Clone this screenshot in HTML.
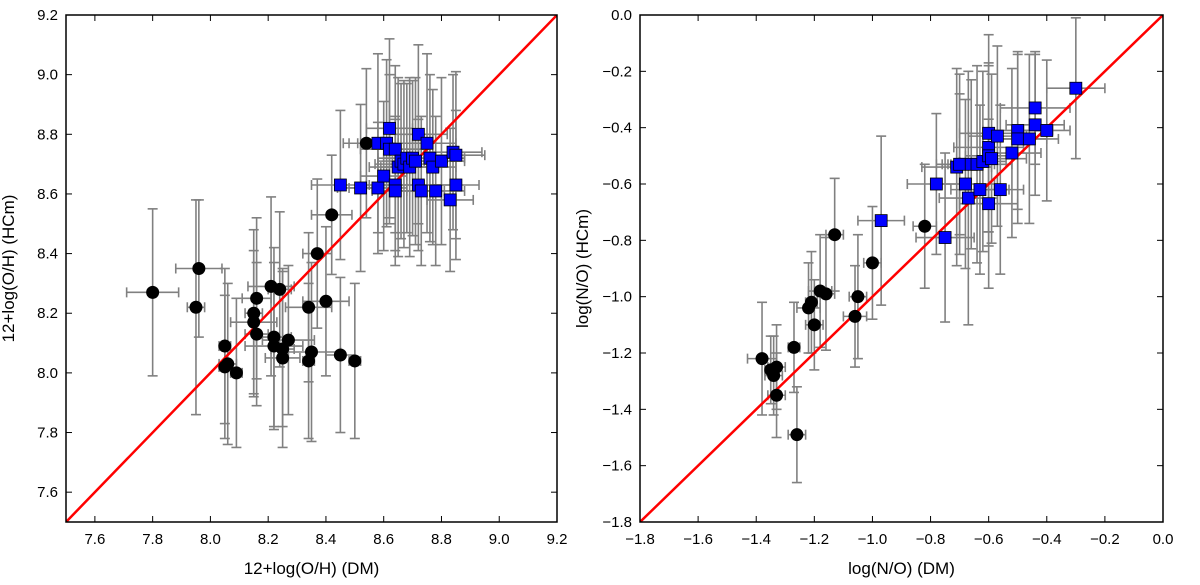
<!DOCTYPE html>
<html><head><meta charset="utf-8"><style>
body{margin:0;background:#fff;}
svg{display:block;font-family:"Liberation Sans",sans-serif;}
</style></head><body>
<svg id="chart" width="1200" height="585"></svg>
<script>
// Left panel data: 12+log(O/H)
const leftBlackX=[7.80,7.95,7.96,8.05,8.05,8.06,8.09,8.15,8.15,8.16,8.16,8.21,8.22,8.22,8.24,8.25,8.25,8.27,8.34,8.34,8.35,8.37,8.40,8.42,8.45,8.50,8.54];
const leftBlackY=[8.27,8.22,8.35,8.09,8.02,8.03,8.00,8.20,8.17,8.25,8.13,8.29,8.09,8.12,8.28,8.05,8.08,8.11,8.22,8.04,8.07,8.40,8.24,8.53,8.06,8.04,8.77];
const leftBlackXErr=[0.09,0.03,0.08,0.02,0.02,0.03,0.02,0.03,0.08,0.05,0.04,0.08,0.10,0.06,0.04,0.06,0.04,0.09,0.08,0.02,0.10,0.05,0.08,0.07,0.05,0.02,0.06];
const leftBlackYErr=[0.28,0.36,0.23,0.26,0.24,0.27,0.25,0.28,0.24,0.27,0.24,0.30,0.28,0.30,0.26,0.30,0.26,0.25,0.25,0.26,0.30,0.25,0.25,0.20,0.26,0.26,0.25];
const leftBlueX=[8.45,8.52,8.58,8.58,8.60,8.61,8.62,8.62,8.64,8.64,8.64,8.65,8.66,8.67,8.68,8.69,8.70,8.71,8.72,8.72,8.73,8.75,8.76,8.77,8.78,8.80,8.83,8.84,8.85,8.85];
const leftBlueY=[8.63,8.62,8.62,8.77,8.66,8.77,8.82,8.75,8.75,8.63,8.61,8.69,8.71,8.70,8.72,8.69,8.72,8.71,8.80,8.63,8.61,8.77,8.72,8.69,8.61,8.71,8.58,8.74,8.73,8.63];
const leftBlueXErr=[0.10,0.08,0.10,0.12,0.08,0.10,0.08,0.10,0.12,0.10,0.08,0.10,0.08,0.10,0.08,0.10,0.12,0.08,0.10,0.12,0.08,0.10,0.12,0.08,0.10,0.08,0.08,0.10,0.10,0.08];
const leftBlueYErr=[0.25,0.28,0.22,0.30,0.25,0.28,0.30,0.25,0.28,0.22,0.25,0.30,0.26,0.28,0.25,0.30,0.26,0.28,0.30,0.22,0.25,0.30,0.28,0.26,0.25,0.28,0.24,0.26,0.28,0.25];
const leftTicks=[7.6,7.8,8.0,8.2,8.4,8.6,8.8,9.0,9.2];
// Right panel data: log(N/O)
const rightBlackX=[-1.38,-1.35,-1.34,-1.33,-1.33,-1.27,-1.26,-1.22,-1.21,-1.20,-1.18,-1.16,-1.13,-1.06,-1.05,-1.00,-0.82,-0.70];
const rightBlackY=[-1.22,-1.26,-1.28,-1.25,-1.35,-1.18,-1.49,-1.04,-1.02,-1.10,-0.98,-0.99,-0.78,-1.07,-1.00,-0.88,-0.75,-0.53];
const rightBlackXErr=[0.05,0.02,0.03,0.03,0.03,0.02,0.03,0.04,0.02,0.03,0.04,0.03,0.03,0.04,0.03,0.03,0.04,0.03];
const rightBlackYErr=[0.20,0.12,0.14,0.15,0.15,0.16,0.17,0.16,0.18,0.16,0.20,0.20,0.20,0.18,0.22,0.20,0.22,0.25];
const rightBlueX=[-0.97,-0.78,-0.75,-0.71,-0.70,-0.68,-0.67,-0.66,-0.64,-0.63,-0.62,-0.60,-0.60,-0.60,-0.60,-0.59,-0.57,-0.56,-0.52,-0.50,-0.50,-0.46,-0.44,-0.44,-0.40,-0.30];
const rightBlueY=[-0.73,-0.60,-0.79,-0.54,-0.53,-0.60,-0.65,-0.53,-0.53,-0.62,-0.52,-0.42,-0.47,-0.50,-0.67,-0.51,-0.43,-0.62,-0.49,-0.41,-0.44,-0.44,-0.33,-0.39,-0.41,-0.26];
const rightBlueXErr=[0.08,0.10,0.10,0.12,0.08,0.10,0.10,0.08,0.12,0.10,0.08,0.10,0.12,0.08,0.10,0.12,0.10,0.08,0.10,0.12,0.10,0.10,0.12,0.10,0.08,0.10];
const rightBlueYErr=[0.30,0.25,0.30,0.35,0.32,0.30,0.45,0.30,0.35,0.30,0.32,0.35,0.30,0.32,0.30,0.30,0.32,0.30,0.30,0.28,0.30,0.30,0.20,0.25,0.25,0.25];
const rightTicks=[-1.8,-1.6,-1.4,-1.2,-1.0,-0.8,-0.6,-0.4,-0.2,0.0];

const svg=document.getElementById('chart');
const NS='http://www.w3.org/2000/svg';
function mk(tag,attrs,parent){const e=document.createElementNS(NS,tag);for(const k in attrs)e.setAttribute(k,attrs[k]);(parent||svg).appendChild(e);return e;}

function panel(name,x0,x1,y0,y1,lo,hi,ticks,fmt,xlabel,ylabel,bx,by,bxe,bye,ux,uy,uxe,uye){
  const g=mk('g',{});
  
  
  const sx=v=>x0+(v-lo)/(hi-lo)*(x1-x0);
  const sy=v=>y1-(v-lo)/(hi-lo)*(y1-y0);
  mk('rect',{x:x0,y:y0,width:x1-x0,height:y1-y0,fill:'#fff'},g);
  const clip=name+'-clip';
  const cp=mk('clipPath',{id:clip},g);mk('rect',{x:x0,y:y0,width:x1-x0,height:y1-y0},cp);
  const inner=mk('g',{'clip-path':'url(#'+clip+')'},g);
  function errs(xs,ys,xe,ye,nm){
    for(let i=0;i<xs.length;i++){
      const eg=mk('g',{stroke:'#808080','stroke-width':1.6,fill:'none'},inner);
      
      
      const cx=sx(xs[i]),cy=sy(ys[i]);
      const xa=sx(xs[i]-xe[i]),xb=sx(xs[i]+xe[i]),ya=sy(ys[i]-ye[i]),yb=sy(ys[i]+ye[i]);
      mk('line',{x1:xa,y1:cy,x2:xb,y2:cy},eg);
      mk('line',{x1:cx,y1:ya,x2:cx,y2:yb},eg);
      mk('line',{x1:xa,y1:cy-5,x2:xa,y2:cy+5},eg);
      mk('line',{x1:xb,y1:cy-5,x2:xb,y2:cy+5},eg);
      mk('line',{x1:cx-5,y1:ya,x2:cx+5,y2:ya},eg);
      mk('line',{x1:cx-5,y1:yb,x2:cx+5,y2:yb},eg);
    }
  }
  errs(bx,by,bxe,bye,'black-point');
  errs(ux,uy,uxe,uye,'blue-point');
  const l=mk('line',{x1:sx(lo),y1:sy(lo),x2:sx(hi),y2:sy(hi),stroke:'#ff0000','stroke-width':2.5},inner);
  
  
  for(let i=0;i<bx.length;i++){
    const c=mk('circle',{cx:sx(bx[i]),cy:sy(by[i]),r:6.5,fill:'#000'},inner);
    
    
  }
  for(let i=0;i<ux.length;i++){
    const r=mk('rect',{x:sx(ux[i])-6,y:sy(uy[i])-6,width:12,height:12,fill:'#0000ff',stroke:'#000','stroke-width':0.8},inner);
    
    
  }
  mk('rect',{x:x0,y:y0,width:x1-x0,height:y1-y0,fill:'none',stroke:'#000','stroke-width':1.5},g);
  ticks.forEach(t=>{
    const px=sx(t),py=sy(t);
    mk('line',{x1:px,y1:y1,x2:px,y2:y1-6,stroke:'#000'},g);
    mk('line',{x1:px,y1:y0,x2:px,y2:y0+6,stroke:'#000'},g);
    mk('line',{x1:x0,y1:py,x2:x0+6,y2:py,stroke:'#000'},g);
    mk('line',{x1:x1,y1:py,x2:x1-6,y2:py,stroke:'#000'},g);
    const tx=mk('text',{x:px,y:y1+22,'text-anchor':'middle','font-size':15},g);tx.textContent=fmt(t);
    
    
    const ty=mk('text',{x:x0-8,y:py+5,'text-anchor':'end','font-size':15},g);ty.textContent=fmt(t);
    
    
  });
  const xl=mk('text',{x:(x0+x1)/2,y:y1+52,'text-anchor':'middle','font-size':17},g);xl.textContent=xlabel;
  
  
  const yx=x0-52,yy=(y0+y1)/2;
  const yl=mk('text',{x:yx,y:yy,'text-anchor':'middle','font-size':17,transform:'rotate(-90 '+yx+' '+yy+')'},g);yl.textContent=ylabel;
  
  
}
panel('left-panel',66,557,15,522,7.5,9.2,leftTicks,t=>t.toFixed(1),'12+log(O/H) (DM)','12+log(O/H) (HCm)',
  leftBlackX,leftBlackY,leftBlackXErr,leftBlackYErr,leftBlueX,leftBlueY,leftBlueXErr,leftBlueYErr);
panel('right-panel',640,1163,15,522,-1.8,0.0,rightTicks,t=>(t<0?'\u2212':'')+Math.abs(t).toFixed(1),'log(N/O) (DM)','log(N/O) (HCm)',
  rightBlackX,rightBlackY,rightBlackXErr,rightBlackYErr,rightBlueX,rightBlueY,rightBlueXErr,rightBlueYErr);
</script>
</body></html>
